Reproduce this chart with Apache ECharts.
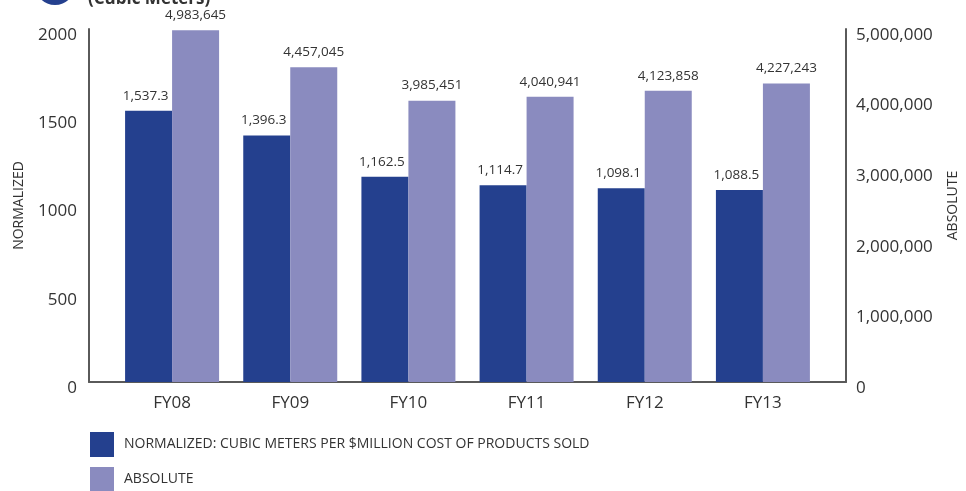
<!DOCTYPE html>
<html>
<head>
<meta charset="utf-8">
<script src="https://cdn.jsdelivr.net/npm/echarts@6/dist/echarts.min.js"></script>
<style>
  html, body { margin: 0; padding: 0; background: #ffffff; }
  #chart { width: 966px; height: 491px; }
</style>
</head>
<body>
<div id="chart"></div>
<script>
// Water use by fiscal year
const categories = ['FY08', 'FY09', 'FY10', 'FY11', 'FY12', 'FY13'];
const normalizedValues = [1537.3, 1396.3, 1162.5, 1114.7, 1098.1, 1088.5];
const absoluteValues = [4983645, 4457045, 3985451, 4040941, 4123858, 4227243];
const seriesNames = ['NORMALIZED: CUBIC METERS PER $MILLION COST OF PRODUCTS SOLD', 'ABSOLUTE'];
const leftTicks = { min: 0, max: 2000, interval: 500 };
const rightTicks = { min: 0, max: 5000000, interval: 1000000 };

const FONT = '"Open Sans", "Noto Sans", sans-serif';
const TEXT = '#333333';
const LINE = '#5a5a5a';
const DARK = '#24408e';
const LIGHT = '#8a8bbf';

const fmtDecimal = v => v.toLocaleString('en-US', { minimumFractionDigits: 1, maximumFractionDigits: 1 });
const fmtInt = v => v.toLocaleString('en-US');

const chart = echarts.init(document.getElementById('chart'), null, { renderer: 'canvas' });

// one legend block per series, stacked vertically
const legendBlock = (name, top) => ({
  orient: 'vertical',
  left: 90,
  top: top,
  padding: 0,
  itemWidth: 24,
  itemHeight: 25,
  icon: 'rect',
  selectedMode: false,
  textStyle: { fontFamily: FONT, fontSize: 14, color: TEXT, padding: [0, 0, 0, 5] },
  data: [name]
});

chart.setOption({
  animation: false,
  backgroundColor: '#ffffff',
  textStyle: { fontFamily: FONT },
  graphic: [
    { type: 'circle', shape: { cx: 55, cy: -15, r: 20 }, style: { fill: DARK } },
    { type: 'text', x: 88, y: 8,
      style: { text: '(Cubic Meters)', font: 'bold 17px ' + FONT, fill: TEXT, verticalAlign: 'bottom' } }
  ],
  legend: [legendBlock(seriesNames[0], 432), legendBlock(seriesNames[1], 467)],
  grid: [
    { left: 113, right: 144, top: 29, bottom: 109, outerBoundsMode: 'none' },
    { left: 89, right: 120, top: 29, bottom: 109, outerBoundsMode: 'none' }
  ],
  xAxis: [
    {
      type: 'category',
      gridIndex: 0,
      data: categories,
      axisLine: { show: false },
      axisTick: { show: false },
      axisLabel: { fontFamily: FONT, fontSize: 17, color: TEXT, margin: 13 }
    },
    {
      type: 'category',
      gridIndex: 1,
      data: categories,
      axisLine: { show: true, lineStyle: { color: LINE, width: 2 } },
      axisTick: { show: false },
      axisLabel: { show: false }
    }
  ],
  yAxis: [
    {
      type: 'value',
      gridIndex: 0,
      position: 'left',
      offset: 24,
      min: leftTicks.min, max: leftTicks.max, interval: leftTicks.interval,
      name: 'NORMALIZED',
      nameLocation: 'middle',
      nameRotate: 90,
      nameGap: 63,
      nameTextStyle: { fontFamily: FONT, fontSize: 14, color: TEXT },
      axisLine: { show: true, lineStyle: { color: LINE, width: 2 } },
      axisTick: { show: false },
      splitLine: { show: false },
      axisLabel: { fontFamily: FONT, fontSize: 17, color: TEXT, margin: 12,
        verticalAlign: 'top', lineHeight: 12,
        formatter: v => String(v) }
    },
    {
      type: 'value',
      gridIndex: 0,
      position: 'right',
      offset: 24,
      min: rightTicks.min, max: rightTicks.max, interval: rightTicks.interval,
      name: 'ABSOLUTE',
      nameLocation: 'middle',
      nameRotate: 90,
      nameGap: 100,
      nameTextStyle: { fontFamily: FONT, fontSize: 14, color: TEXT },
      axisLine: { show: true, lineStyle: { color: LINE, width: 2 } },
      axisTick: { show: false },
      splitLine: { show: false },
      axisLabel: { fontFamily: FONT, fontSize: 17, color: TEXT, margin: 10,
        verticalAlign: 'top', lineHeight: 12,
        formatter: v => fmtInt(v) }
    },
    {
      type: 'value',
      gridIndex: 1,
      show: false
    }
  ],
  series: [
    {
      name: seriesNames[0],
      type: 'bar',
      xAxisIndex: 0,
      yAxisIndex: 0,
      data: normalizedValues,
      barWidth: 47,
      barGap: '0%',
      itemStyle: { color: DARK },
      label: {
        show: true, position: 'top', distance: 8, offset: [-3, 0],
        fontFamily: FONT, fontSize: 13.5, color: TEXT,
        formatter: p => fmtDecimal(p.value)
      }
    },
    {
      name: seriesNames[1],
      type: 'bar',
      xAxisIndex: 0,
      yAxisIndex: 1,
      data: absoluteValues,
      barWidth: 47,
      barGap: '0%',
      itemStyle: { color: LIGHT },
      label: {
        show: true, position: 'top', distance: 8,
        fontFamily: FONT, fontSize: 13.5, color: TEXT,
        formatter: p => fmtInt(p.value)
      }
    }
  ]
});
</script>
</body>
</html>
